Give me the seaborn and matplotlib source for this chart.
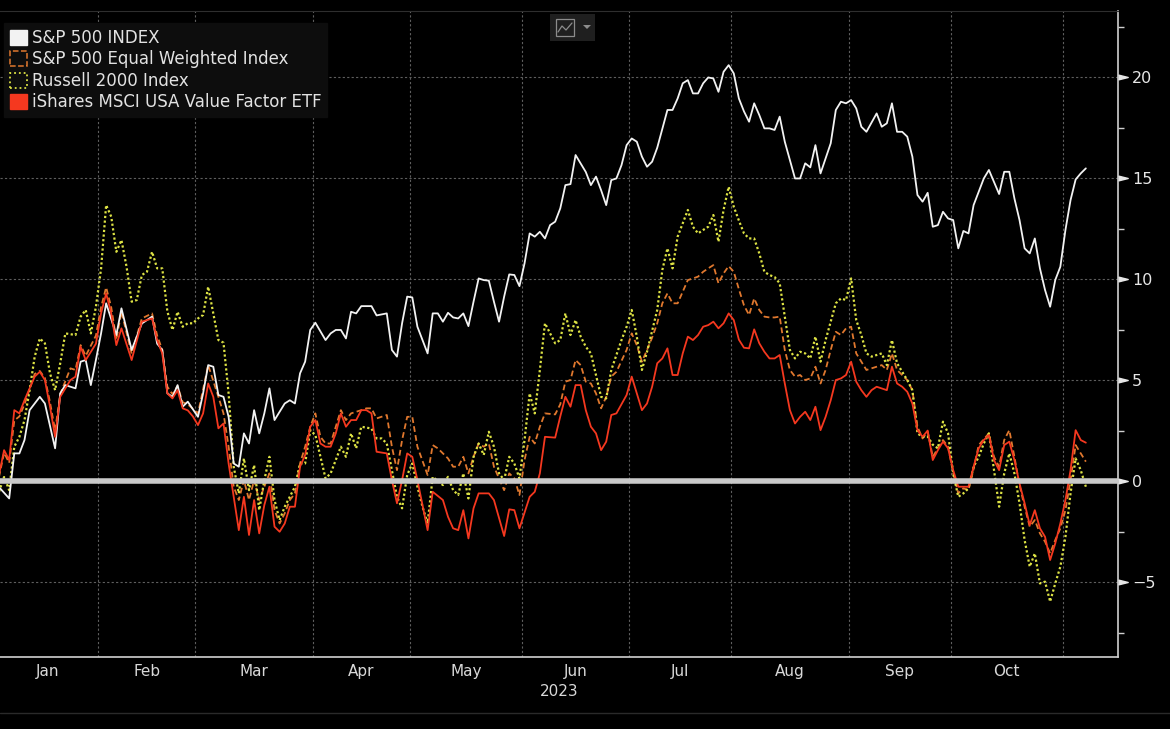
import numpy as np
import pandas as pd
import matplotlib
matplotlib.use("Agg")
import matplotlib.pyplot as plt
import seaborn as sns
from matplotlib.patches import Patch, Rectangle, Polygon
from matplotlib.lines import Line2D

# YTD total return in % (trading date, value)
spx = [("12-30", 0.0), ("01-03", -0.3), ("01-05", -0.86), ("01-06", 1.37), ("01-09", 1.37), ("01-10", 2.03),
       ("01-11", 3.51), ("01-13", 4.17), ("01-17", 3.84), ("01-19", 1.62), ("01-20", 4.34), ("01-23", 4.75),
       ("01-25", 4.59), ("01-26", 5.91), ("01-27", 5.99), ("01-30", 4.75), ("01-31", 6.0), ("02-01", 7.3),
       ("02-02", 8.8), ("02-06", 7.23), ("02-07", 8.55), ("02-09", 6.49), ("02-13", 7.8), ("02-15", 8.14),
       ("02-16", 6.8), ("02-17", 6.49), ("02-21", 4.34), ("02-22", 4.17), ("02-23", 4.75), ("02-24", 3.68),
       ("02-27", 3.93), ("03-01", 3.18), ("03-02", 4.34), ("03-03", 5.74), ("03-06", 5.66), ("03-07", 4.26),
       ("03-08", 4.17), ("03-09", 3.18), ("03-10", 0.87), ("03-13", 0.71), ("03-14", 2.36), ("03-15", 1.86),
       ("03-16", 3.51), ("03-17", 2.36), ("03-20", 3.35), ("03-21", 4.59), ("03-22", 3.02), ("03-24", 3.84),
       ("03-27", 4.0), ("03-28", 3.84), ("03-29", 5.33), ("03-30", 5.91), ("03-31", 7.48), ("04-03", 7.84),
       ("04-05", 6.98), ("04-06", 7.31), ("04-10", 7.48), ("04-11", 7.48), ("04-12", 7.06), ("04-13", 8.38),
       ("04-14", 8.3), ("04-17", 8.66), ("04-19", 8.66), ("04-20", 8.2), ("04-24", 8.3), ("04-25", 6.49),
       ("04-26", 6.16), ("04-27", 7.81), ("04-28", 9.13), ("05-01", 9.09), ("05-02", 7.64), ("05-04", 6.32),
       ("05-05", 8.3), ("05-08", 8.3), ("05-09", 7.89), ("05-10", 8.33), ("05-11", 8.1), ("05-12", 8.05),
       ("05-15", 8.3), ("05-16", 7.67), ("05-17", 8.88), ("05-18", 10.03), ("05-19", 9.95), ("05-22", 9.92),
       ("05-23", 8.88), ("05-24", 7.89), ("05-25", 9.13), ("05-26", 10.23), ("05-30", 10.2), ("05-31", 9.65),
       ("06-01", 10.78), ("06-02", 12.26), ("06-05", 12.1), ("06-06", 12.34), ("06-07", 12.01), ("06-08", 12.67),
       ("06-09", 12.84), ("06-12", 13.5), ("06-13", 14.65), ("06-14", 14.7), ("06-15", 16.14), ("06-20", 15.3),
       ("06-21", 14.65), ("06-22", 15.07), ("06-23", 14.4), ("06-26", 13.66), ("06-27", 14.9), ("06-28", 14.98),
       ("06-29", 15.64), ("06-30", 16.63), ("07-03", 16.96), ("07-05", 16.8), ("07-06", 16.06), ("07-07", 15.56),
       ("07-10", 15.81), ("07-11", 16.5), ("07-13", 18.37), ("07-14", 18.37), ("07-17", 18.94), ("07-18", 19.69),
       ("07-19", 19.85), ("07-20", 19.19), ("07-21", 19.19), ("07-24", 19.69), ("07-25", 19.98), ("07-26", 19.93),
       ("07-27", 19.27), ("07-28", 20.26), ("07-31", 20.59), ("08-01", 20.18), ("08-02", 18.94), ("08-03", 18.3),
       ("08-04", 17.79), ("08-07", 18.7), ("08-08", 18.12), ("08-09", 17.46), ("08-10", 17.46), ("08-11", 17.38),
       ("08-14", 18.04), ("08-15", 16.8), ("08-17", 14.98), ("08-18", 14.98), ("08-21", 15.73), ("08-22", 15.53),
       ("08-23", 16.63), ("08-24", 15.23), ("08-28", 16.72), ("08-29", 18.37), ("08-30", 18.78), ("08-31", 18.7),
       ("09-01", 18.86), ("09-05", 18.45), ("09-06", 17.54), ("09-07", 17.29), ("09-11", 18.2), ("09-12", 17.54),
       ("09-13", 17.71), ("09-14", 18.7), ("09-15", 17.29), ("09-18", 17.29), ("09-19", 17.05), ("09-20", 16.06),
       ("09-21", 14.16), ("09-22", 13.83), ("09-25", 14.27), ("09-26", 12.59), ("09-27", 12.67), ("09-28", 13.33),
       ("09-29", 13.0), ("10-02", 12.92), ("10-03", 11.52), ("10-04", 12.38), ("10-05", 12.26), ("10-06", 13.66),
       ("10-09", 14.32), ("10-10", 14.98), ("10-11", 15.4), ("10-12", 14.8), ("10-13", 14.21), ("10-16", 15.31),
       ("10-17", 15.31), ("10-18", 13.99), ("10-19", 12.92), ("10-20", 11.52), ("10-23", 11.27), ("10-24", 12.01),
       ("10-25", 10.53), ("10-26", 9.46), ("10-27", 8.63), ("10-30", 9.95), ("10-31", 10.61), ("11-01", 12.43),
       ("11-02", 13.91), ("11-03", 14.93), ("11-06", 15.23), ("11-07", 15.48)]

equal_weight = [("12-30", 0.0), ("01-03", 0.2), ("01-04", 1.4), ("01-05", 0.9), ("01-06", 3.0), ("01-09", 3.2),
                ("01-10", 3.8), ("01-12", 5.3), ("01-13", 5.45), ("01-17", 5.1), ("01-18", 3.9), ("01-19", 2.5),
                ("01-20", 4.3), ("01-24", 5.58), ("01-25", 5.5), ("01-26", 6.73), ("01-27", 6.2), ("01-31", 7.2),
                ("02-01", 8.6), ("02-02", 9.59), ("02-03", 8.6), ("02-06", 7.0), ("02-07", 8.38), ("02-09", 6.3),
                ("02-13", 8.05), ("02-15", 8.3), ("02-16", 7.2), ("02-17", 6.5), ("02-21", 4.67), ("02-22", 4.3),
                ("02-23", 4.7), ("02-24", 3.9), ("02-27", 3.8), ("03-01", 3.35), ("03-03", 5.74), ("03-07", 4.17),
                ("03-08", 3.35), ("03-09", 1.7), ("03-10", -0.28), ("03-13", -0.94), ("03-14", 0.05), ("03-15", -0.94),
                ("03-16", 0.05), ("03-17", -0.94), ("03-20", -0.28), ("03-21", 0.38), ("03-22", -1.44), ("03-23", -2.1),
                ("03-24", -1.6), ("03-27", -0.94), ("03-28", -0.61), ("03-29", 0.87), ("03-30", 1.7), ("03-31", 2.69),
                ("04-03", 3.35), ("04-04", 2.19), ("04-05", 1.86), ("04-06", 1.86), ("04-11", 3.51), ("04-12", 3.02),
                ("04-13", 3.35), ("04-17", 3.51), ("04-18", 3.6), ("04-19", 3.6), ("04-20", 3.1), ("04-24", 3.27),
                ("04-25", 1.7), ("04-26", 0.54), ("04-27", 2.03), ("04-28", 3.18), ("05-01", 3.18), ("05-02", 1.7),
                ("05-04", 0.3), ("05-05", 1.78), ("05-08", 1.62), ("05-10", 1.12), ("05-11", 0.71), ("05-12", 0.71),
                ("05-15", 1.2), ("05-16", 0.38), ("05-17", 1.2), ("05-18", 1.86), ("05-19", 1.7), ("05-22", 1.86),
                ("05-23", 0.71), ("05-25", -0.45), ("05-26", 0.38), ("05-30", 0.13), ("05-31", -0.69), ("06-01", 1.04),
                ("06-02", 2.19), ("06-05", 1.86), ("06-06", 2.69), ("06-07", 3.35), ("06-09", 3.3), ("06-12", 3.8),
                ("06-13", 4.92), ("06-14", 5.0), ("06-15", 5.99), ("06-16", 5.74), ("06-20", 4.92), ("06-21", 4.83),
                ("06-22", 4.34), ("06-23", 3.6), ("06-26", 4.17), ("06-27", 5.17), ("06-28", 5.41), ("06-30", 6.49),
                ("07-03", 7.31), ("07-05", 6.73), ("07-06", 5.91), ("07-07", 6.49), ("07-10", 7.1), ("07-11", 7.81),
                ("07-12", 8.8), ("07-13", 9.29), ("07-14", 8.8), ("07-17", 8.8), ("07-18", 9.37), ("07-19", 9.95),
                ("07-20", 10.03), ("07-21", 10.12), ("07-24", 10.36), ("07-25", 10.53), ("07-26", 10.69), ("07-27", 9.79),
                ("07-28", 10.28), ("07-31", 10.64), ("08-01", 10.36), ("08-02", 9.5), ("08-03", 8.7), ("08-04", 8.22),
                ("08-07", 9.04), ("08-08", 8.47), ("08-09", 8.14), ("08-10", 8.1), ("08-11", 8.1), ("08-14", 8.14),
                ("08-15", 6.49), ("08-16", 5.5), ("08-17", 5.17), ("08-18", 5.25), ("08-21", 5.0), ("08-22", 5.08),
                ("08-23", 5.66), ("08-24", 4.83), ("08-25", 5.5), ("08-28", 6.49), ("08-29", 7.39), ("08-30", 7.23),
                ("08-31", 7.56), ("09-01", 7.64), ("09-05", 6.32), ("09-06", 5.91), ("09-07", 5.5), ("09-08", 5.58),
                ("09-12", 5.74), ("09-13", 5.5), ("09-14", 6.32), ("09-15", 5.5), ("09-18", 5.25), ("09-19", 5.0),
                ("09-20", 4.5), ("09-21", 2.69), ("09-22", 2.11), ("09-25", 2.45), ("09-26", 1.2), ("09-27", 1.62),
                ("09-28", 2.03), ("09-29", 1.7), ("10-02", 0.4), ("10-03", -0.61), ("10-04", -0.36), ("10-05", -0.45),
                ("10-06", 0.6), ("10-09", 1.78), ("10-11", 2.36), ("10-12", 1.2), ("10-13", 0.71), ("10-16", 2.03),
                ("10-17", 2.52), ("10-18", 1.2), ("10-19", -0.2), ("10-20", -1.27), ("10-23", -2.26), ("10-24", -1.93),
                ("10-25", -2.59), ("10-26", -3.0), ("10-27", -3.58), ("10-30", -2.92), ("10-31", -2.34), ("11-01", -1.44),
                ("11-02", 0.05), ("11-03", 1.78), ("11-06", 1.37), ("11-07", 0.96)]

russell = [("12-30", 0.0), ("01-03", -0.53), ("01-04", 0.2), ("01-05", -0.45), ("01-06", 1.7), ("01-09", 2.19),
           ("01-10", 3.02), ("01-11", 4.5), ("01-12", 6.16), ("01-13", 7.06), ("01-17", 6.82), ("01-18", 5.33),
           ("01-19", 4.5), ("01-20", 5.83), ("01-23", 7.31), ("01-25", 7.23), ("01-26", 8.14), ("01-27", 8.47),
           ("01-30", 7.31), ("01-31", 8.63), ("02-01", 10.5), ("02-02", 13.66), ("02-03", 13.09), ("02-06", 11.35),
           ("02-07", 11.93), ("02-08", 10.61), ("02-09", 8.88), ("02-10", 8.96), ("02-13", 10.2), ("02-14", 10.36),
           ("02-15", 11.35), ("02-16", 10.53), ("02-17", 10.53), ("02-21", 8.4), ("02-22", 7.48), ("02-23", 8.38),
           ("02-24", 7.64), ("02-27", 7.81), ("02-28", 7.81), ("03-01", 8.05), ("03-02", 8.22), ("03-03", 9.62),
           ("03-06", 8.3), ("03-07", 6.98), ("03-08", 6.85), ("03-09", 4.34), ("03-10", 0.71), ("03-13", -0.61),
           ("03-14", 1.12), ("03-15", -0.45), ("03-16", 0.79), ("03-17", -1.44), ("03-20", 0.05), ("03-21", 1.2),
           ("03-22", -0.94), ("03-23", -1.93), ("03-24", -1.27), ("03-28", -0.28), ("03-29", 0.87), ("03-30", 0.87),
           ("03-31", 2.52), ("04-03", 2.28), ("04-05", 0.13), ("04-06", 0.38), ("04-11", 1.7), ("04-12", 1.2),
           ("04-13", 2.36), ("04-14", 1.62), ("04-17", 2.69), ("04-19", 2.6), ("04-20", 2.11), ("04-21", 2.11),
           ("04-24", 1.86), ("04-26", -0.78), ("04-27", -1.35), ("04-28", 0.3), ("05-01", 0.87), ("05-02", -0.28),
           ("05-03", -1.27), ("05-04", -2.1), ("05-05", 0.21), ("05-09", -0.2), ("05-10", 0.21), ("05-11", -0.45),
           ("05-12", -0.69), ("05-15", 0.38), ("05-16", -0.86), ("05-17", 1.2), ("05-18", 1.86), ("05-19", 1.29),
           ("05-22", 2.44), ("05-23", 1.7), ("05-24", 0.38), ("05-25", 0.05), ("05-26", 1.2), ("05-30", 0.87),
           ("05-31", 0.13), ("06-01", 2.03), ("06-02", 4.34), ("06-05", 3.35), ("06-06", 5.5), ("06-07", 7.81),
           ("06-09", 6.82), ("06-12", 6.98), ("06-13", 8.3), ("06-14", 7.23), ("06-15", 7.97), ("06-16", 7.15),
           ("06-20", 6.65), ("06-21", 6.32), ("06-22", 5.25), ("06-23", 4.17), ("06-26", 4.09), ("06-27", 5.5),
           ("06-28", 6.24), ("06-29", 6.98), ("06-30", 7.64), ("07-03", 8.47), ("07-05", 7.15), ("07-06", 5.5),
           ("07-07", 6.4), ("07-11", 8.47), ("07-12", 10.45), ("07-13", 11.52), ("07-14", 10.53), ("07-17", 12.1),
           ("07-19", 13.42), ("07-20", 12.59), ("07-21", 12.26), ("07-24", 12.43), ("07-25", 12.59), ("07-26", 13.17),
           ("07-27", 11.85), ("07-28", 13.42), ("07-31", 14.57), ("08-01", 13.58), ("08-02", 12.9), ("08-03", 12.26),
           ("08-04", 12.01), ("08-07", 12.01), ("08-08", 11.27), ("08-09", 10.36), ("08-10", 10.2), ("08-11", 10.1),
           ("08-14", 9.79), ("08-15", 8.14), ("08-16", 6.49), ("08-17", 6.07), ("08-18", 6.4), ("08-21", 6.32),
           ("08-22", 6.07), ("08-23", 7.15), ("08-24", 5.91), ("08-25", 6.98), ("08-29", 8.8), ("08-30", 9.04),
           ("08-31", 8.96), ("09-01", 10.03), ("09-05", 7.97), ("09-06", 7.23), ("09-07", 6.32), ("09-08", 6.16),
           ("09-12", 6.32), ("09-13", 5.74), ("09-14", 6.98), ("09-15", 5.83), ("09-18", 5.41), ("09-19", 5.0),
           ("09-20", 4.5), ("09-21", 2.36), ("09-22", 2.19), ("09-25", 2.2), ("09-26", 1.8), ("09-27", 1.62),
           ("09-28", 2.94), ("09-29", 2.36), ("10-02", 0.38), ("10-03", -0.78), ("10-04", -0.61), ("10-05", -0.36),
           ("10-06", 0.71), ("10-09", 1.2), ("10-10", 1.86), ("10-11", 2.36), ("10-12", 0.54), ("10-13", -1.27),
           ("10-16", 0.38), ("10-17", 1.37), ("10-18", 0.38), ("10-19", -1.1), ("10-20", -2.92), ("10-23", -4.24),
           ("10-24", -3.58), ("10-25", -5.07), ("10-26", -4.98), ("10-27", -5.97), ("10-30", -5.07), ("10-31", -4.24),
           ("11-01", -2.76), ("11-02", -0.61), ("11-03", 1.12), ("11-06", 0.54), ("11-07", -0.28)]

value_etf = [("12-30", 0.0), ("01-03", 0.3), ("01-04", 1.53), ("01-05", 1.04), ("01-06", 3.51), ("01-09", 3.35),
             ("01-10", 4.0), ("01-12", 5.17), ("01-13", 5.41), ("01-17", 5.0), ("01-18", 3.68), ("01-19", 2.19),
             ("01-20", 4.17), ("01-24", 5.0), ("01-25", 5.17), ("01-26", 6.65), ("01-27", 5.99), ("01-31", 6.8),
             ("02-01", 8.3), ("02-02", 9.29), ("02-03", 8.3), ("02-06", 6.73), ("02-07", 7.56), ("02-09", 5.99),
             ("02-13", 7.89), ("02-15", 8.05), ("02-16", 6.98), ("02-17", 6.32), ("02-21", 4.34), ("02-22", 4.09),
             ("02-23", 4.5), ("02-24", 3.6), ("02-27", 3.5), ("02-28", 3.2), ("03-01", 2.77), ("03-02", 3.35),
             ("03-03", 4.83), ("03-06", 4.17), ("03-07", 2.61), ("03-08", 2.85), ("03-09", 0.87), ("03-10", -0.78),
             ("03-13", -2.43), ("03-14", -0.78), ("03-15", -2.67), ("03-16", -0.94), ("03-17", -2.59), ("03-20", -1.19),
             ("03-21", -0.28), ("03-22", -2.26), ("03-23", -2.51), ("03-24", -2.1), ("03-27", -1.27), ("03-28", -1.27),
             ("03-29", 0.71), ("03-30", 1.29), ("03-31", 2.69), ("04-03", 3.02), ("04-04", 1.86), ("04-05", 1.7),
             ("04-06", 1.7), ("04-10", 2.36), ("04-11", 3.35), ("04-12", 2.69), ("04-13", 3.02), ("04-14", 3.02),
             ("04-17", 3.51), ("04-18", 3.51), ("04-19", 3.35), ("04-20", 1.45), ("04-24", 1.37), ("04-25", 0.05),
             ("04-26", -1.1), ("04-27", 0.05), ("04-28", 1.37), ("05-01", 1.2), ("05-02", 0.05), ("05-04", -2.43),
             ("05-05", -0.53), ("05-09", -0.94), ("05-10", -1.77), ("05-11", -2.34), ("05-12", -2.43), ("05-15", -1.44),
             ("05-16", -2.84), ("05-17", -1.35), ("05-18", -0.61), ("05-22", -0.61), ("05-23", -0.94), ("05-25", -2.72),
             ("05-26", -1.4), ("05-30", -1.44), ("05-31", -2.34), ("06-02", -0.78), ("06-05", -0.53), ("06-06", 0.38),
             ("06-07", 2.19), ("06-09", 2.15), ("06-12", 3.2), ("06-13", 4.17), ("06-14", 3.68), ("06-15", 4.75),
             ("06-16", 4.75), ("06-20", 3.51), ("06-21", 2.69), ("06-22", 2.36), ("06-23", 1.53), ("06-26", 1.95),
             ("06-27", 3.27), ("06-28", 3.35), ("06-30", 4.26), ("07-03", 5.17), ("07-05", 4.34), ("07-06", 3.51),
             ("07-07", 3.84), ("07-10", 4.67), ("07-11", 5.83), ("07-12", 6.07), ("07-13", 6.57), ("07-14", 5.25),
             ("07-17", 5.25), ("07-18", 6.32), ("07-19", 7.15), ("07-20", 6.98), ("07-21", 7.23), ("07-24", 7.64),
             ("07-25", 7.72), ("07-26", 7.89), ("07-27", 7.56), ("07-28", 7.81), ("07-31", 8.3), ("08-01", 7.97),
             ("08-02", 7.0), ("08-03", 6.6), ("08-04", 6.57), ("08-07", 7.51), ("08-08", 6.82), ("08-09", 6.4),
             ("08-10", 6.07), ("08-11", 6.07), ("08-14", 6.24), ("08-15", 4.83), ("08-16", 3.51), ("08-17", 2.85),
             ("08-18", 3.18), ("08-21", 3.43), ("08-22", 3.02), ("08-23", 3.68), ("08-24", 2.52), ("08-25", 3.18),
             ("08-28", 4.0), ("08-29", 5.0), ("08-30", 5.08), ("08-31", 5.25), ("09-01", 5.91), ("09-05", 4.92),
             ("09-06", 4.5), ("09-07", 4.17), ("09-08", 4.5), ("09-11", 4.67), ("09-13", 4.5), ("09-14", 5.66),
             ("09-15", 4.83), ("09-18", 4.67), ("09-19", 4.42), ("09-20", 3.84), ("09-21", 2.52), ("09-22", 2.19),
             ("09-25", 2.5), ("09-26", 1.04), ("09-27", 1.53), ("09-28", 1.95), ("09-29", 1.62), ("10-02", 0.54),
             ("10-03", -0.28), ("10-04", -0.28), ("10-05", -0.28), ("10-06", 0.71), ("10-09", 1.62), ("10-10", 2.03),
             ("10-11", 2.28), ("10-12", 1.04), ("10-13", 0.54), ("10-16", 1.78), ("10-17", 1.95), ("10-18", 1.04),
             ("10-19", -0.12), ("10-20", -1.1), ("10-23", -2.18), ("10-24", -1.44), ("10-25", -2.34), ("10-26", -2.76),
             ("10-27", -3.91), ("10-30", -3.09), ("10-31", -2.1), ("11-01", -0.94), ("11-02", 0.54), ("11-03", 2.52),
             ("11-06", 2.03), ("11-07", 1.9)]

series_names = ["S&P 500 INDEX", "S&P 500 Equal Weighted Index",
                "Russell 2000 Index", "iShares MSCI USA Value Factor ETF"]
month_labels = ["Jan", "Feb", "Mar", "Apr", "May", "Jun", "Jul", "Aug", "Sep", "Oct"]
year_label = "2023"
y_ticks = [-5, 0, 5, 10, 15, 20]

# x axis runs on trading days (weekends and exchange holidays skipped)
nyse_holidays = ["2023-01-02", "2023-01-16", "2023-02-20", "2023-04-07",
                 "2023-05-29", "2023-06-19", "2023-07-04", "2023-09-04"]
trading_days = pd.bdate_range("2022-12-30", "2023-11-30", freq="C", holidays=nyse_holidays)


def to_frame(pairs, name):
    dates = pd.to_datetime([("2022-" if d.startswith("12") else "2023-") + d for d, _ in pairs])
    pos = trading_days.get_indexer(dates)
    assert (pos >= 0).all(), name
    return pd.DataFrame({"day": pos, "ret": [v for _, v in pairs], "series": name})


frames = [to_frame(p, n) for p, n in zip([spx, equal_weight, russell, value_etf], series_names)]

# first trading day of every month -> month boundaries
idx = pd.Series(np.arange(len(trading_days)), index=trading_days)
firsts = idx.groupby([trading_days.year, trading_days.month]).first().values
bounds = firsts[1:] - 0.5          # Jan, Feb, ... Nov starts
month_centers = (bounds[:-1] + bounds[1:]) / 2

sns.set_style("dark")
plt.rcParams["font.family"] = ["DejaVu Sans"]

W, H = 1170, 729
fig = plt.figure(figsize=(W / 100, H / 100), dpi=100, facecolor="black")
ax = fig.add_axes([0, 1 - 657 / H, 1118 / W, 646 / H])
ax.set_facecolor("black")

colors = ["#f2f2f2", "#e0782e", "#dde244", "#f5381f"]
line_styles = ["-", (0, (3.2, 1.8)), (0, (1.0, 1.1)), "-"]
widths = [1.3, 1.3, 1.6, 1.3]
orders = [4, 3, 3.5, 4.5]

for df, c, ls, lw, z in zip(frames, colors, line_styles, widths, orders):
    sns.lineplot(data=df, x="day", y="ret", ax=ax, color=c, linestyle=ls,
                 linewidth=lw, legend=False, zorder=z, sort=True)

# zero line sits on top of the series, like the terminal chart
ax.axhline(0, color="#c9c9c9", lw=4.0, zorder=6)

grid_kw = dict(color="#5e5e5e", lw=0.8, linestyle=(0, (2, 2)), zorder=1)
for y in y_ticks:
    if y != 0:
        ax.axhline(y, **grid_kw)
for b in bounds[1:]:
    ax.axvline(b, **grid_kw)

ax.set_xlim(1.2, 220.3)
ax.set_ylim(-8.71, 23.27)
ax.set_xlabel("")
ax.set_ylabel("")

# x axis: ticks on month boundaries, labels in the middle of each month
ax.set_xticks(bounds[1:])
ax.set_xticklabels([])
ax.set_xticks(month_centers, minor=True)
ax.set_xticklabels(month_labels, minor=True)
ax.tick_params(axis="x", which="major", length=5, width=1, color="#cfcfcf", direction="out")
ax.tick_params(axis="x", which="minor", length=0, pad=5, labelsize=11, labelcolor="#d8d8d8")
ax.text(0.5, -0.054, year_label, transform=ax.transAxes, ha="center", va="center",
        fontsize=11, color="#d8d8d8")

# y axis on the right with small arrow heads at the major ticks
ax.yaxis.tick_right()
ax.set_yticks(y_ticks)
ax.set_yticks(np.arange(-7.5, 23, 5), minor=True)
ax.tick_params(axis="y", which="major", length=0, pad=10, labelsize=11.5, labelcolor="#e6e6e6")
ax.tick_params(axis="y", which="minor", length=4, width=1, color="#cfcfcf", direction="out")
arrow = [(0, -0.5), (2, 0), (0, 0.5)]
ax.plot([1.0] * len(y_ticks), y_ticks, transform=ax.get_yaxis_transform(), ls="none",
        marker=arrow, ms=14, color="#e6e6e6", clip_on=False, zorder=7)

ax.spines["left"].set_visible(False)
ax.spines["right"].set_color("#d0d0d0")
ax.spines["right"].set_linewidth(1.2)
ax.spines["bottom"].set_color("#d0d0d0")
ax.spines["bottom"].set_linewidth(1.2)
ax.spines["top"].set_color("#2e2e2e")
ax.spines["top"].set_linewidth(0.8)
ax.grid(False)

handles = [
    Patch(facecolor=colors[0], edgecolor=colors[0]),
    Patch(facecolor="none", edgecolor=colors[1], linestyle="--", linewidth=1.1),
    Patch(facecolor="none", edgecolor=colors[2], linestyle=":", linewidth=1.3),
    Patch(facecolor=colors[3], edgecolor=colors[3]),
]
leg = ax.legend(handles, series_names, loc="upper left", bbox_to_anchor=(0.004, 0.981),
                borderaxespad=0, fontsize=12, frameon=True, fancybox=False,
                handlelength=1.0, handleheight=1.0, handletextpad=0.3,
                labelspacing=0.2, borderpad=0.35)
leg.get_frame().set_facecolor("#0d0d0d")
leg.get_frame().set_edgecolor("#0d0d0d")
leg.get_frame().set_alpha(1)
leg.set_zorder(10)
for t in leg.get_texts():
    t.set_color("#e2e2e2")


# chart-type button at the top
def px(x, y):
    return (x / W, 1 - y / H)


fig.add_artist(Rectangle(px(550, 41), 45 / W, 27 / H, transform=fig.transFigure,
                         facecolor="#1f1f1f", edgecolor="none"))
fig.add_artist(Rectangle(px(556, 36), 18 / W, 17 / H, transform=fig.transFigure,
                         facecolor="none", edgecolor="#8c8c8c", lw=0.9))
zig = [px(558, 32), px(562, 26), px(566, 30), px(572, 23)]
fig.add_artist(Line2D([p[0] for p in zig], [p[1] for p in zig], transform=fig.transFigure,
                      color="#8c8c8c", lw=0.9))
fig.add_artist(Polygon([px(583, 25), px(591, 25), px(587, 29)], closed=True,
                       transform=fig.transFigure, facecolor="#8c8c8c", edgecolor="none"))

# thin status-bar line under the axis
fig.add_artist(Line2D([0, 1], [1 - 713 / H] * 2, transform=fig.transFigure, color="#2a2a2a", lw=1))

fig.savefig("out.png", dpi=100, facecolor="black")
